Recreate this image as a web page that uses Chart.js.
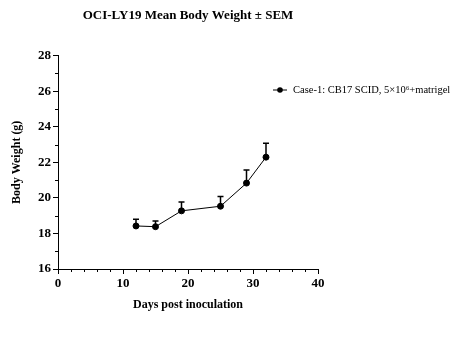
<!DOCTYPE html>
<html>
<head>
<meta charset="utf-8">
<script src="https://cdn.jsdelivr.net/npm/chart.js@4.4.0/dist/chart.umd.min.js"></script>
<style>
    html, body { margin: 0; padding: 0; background: #fff; }
    #wrap { width: 460px; height: 337px; }
</style>
</head>
<body>
<div id="wrap"><canvas id="chart" width="460" height="337"></canvas></div>
<script>
// Values
const seriesLabel = 'Case-1: CB17 SCID, 5×10⁶+matrigel';
const days = [12, 15, 19, 25, 29, 32];
const meanWeight = [18.42, 18.38, 19.27, 19.53, 20.83, 22.29];
const semWeight = [0.38, 0.32, 0.50, 0.55, 0.73, 0.78];

const serif = "'Liberation Serif', 'Times New Roman', serif";

// Upper error bars, minor ticks and the legend entry
const extrasPlugin = {
    id: 'extras',
    afterDatasetsDraw(chart) {
        const ctx = chart.ctx;
        const xs = chart.scales.x;
        const ys = chart.scales.y;
        ctx.save();
        ctx.strokeStyle = '#000';

        // error bars (mean + SEM only)
        ctx.lineWidth = 1.5;
        days.forEach((d, i) => {
            const px = xs.getPixelForValue(d);
            const py = ys.getPixelForValue(meanWeight[i]);
            const pt = ys.getPixelForValue(meanWeight[i] + semWeight[i]);
            ctx.beginPath();
            ctx.moveTo(px, py);
            ctx.lineTo(px, pt);
            ctx.moveTo(px - 3, pt);
            ctx.lineTo(px + 3, pt);
            ctx.stroke();
        });

        // minor ticks
        ctx.lineWidth = 1;
        ctx.beginPath();
        for (let v = ys.min + 1; v < ys.max; v += 2) {
            const py = Math.round(ys.getPixelForValue(v)) + 0.5;
            ctx.moveTo(xs.left - 3, py);
            ctx.lineTo(xs.left, py);
        }
        for (let v = xs.min; v <= xs.max; v += 2) {
            if (v % 10 === 0) continue;
            const px = Math.round(xs.getPixelForValue(v)) + 0.5;
            ctx.moveTo(px, ys.bottom);
            ctx.lineTo(px, ys.bottom + 3);
        }
        ctx.stroke();

        // legend entry
        const lx = 273, ly = 90;
        ctx.lineWidth = 1;
        ctx.beginPath();
        ctx.moveTo(lx, ly);
        ctx.lineTo(lx + 14, ly);
        ctx.stroke();
        ctx.fillStyle = '#000';
        ctx.beginPath();
        ctx.arc(lx + 7, ly, 2.8, 0, Math.PI * 2);
        ctx.fill();
        ctx.font = '10.5px ' + serif;
        ctx.textBaseline = 'middle';
        ctx.fillText(seriesLabel, lx + 20, ly);
        ctx.restore();
    }
};

const ctx = document.getElementById('chart').getContext('2d');
new Chart(ctx, {
    type: 'line',
    data: {
        datasets: [{
            label: seriesLabel,
            data: days.map((d, i) => ({ x: d, y: meanWeight[i] })),
            borderColor: '#000',
            backgroundColor: '#000',
            borderWidth: 1,
            pointRadius: 3,
            pointHoverRadius: 3,
            tension: 0
        }]
    },
    options: {
        responsive: false,
        animation: false,
        events: [],
        layout: {
            padding: { left: 6, right: 142, top: 0, bottom: 25 }
        },
        plugins: {
            legend: { display: false },
            tooltip: { enabled: false },
            title: {
                display: true,
                fullSize: false,
                text: 'OCI-LY19 Mean Body Weight ± SEM',
                color: '#000',
                font: { family: serif, size: 13, weight: 'bold' },
                padding: { top: 8, bottom: 32 }
            }
        },
        scales: {
            x: {
                type: 'linear',
                min: 0,
                max: 40,
                afterFit: (scale) => { scale.height = 43; },
                ticks: {
                    stepSize: 10,
                    color: '#000',
                    font: { family: serif, size: 13, weight: 'bold' },
                    padding: 2
                },
                grid: { display: true, drawOnChartArea: false, drawTicks: true, tickLength: 5, tickColor: '#000' },
                border: { display: true, color: '#000', width: 1 },
                title: {
                    display: true,
                    text: 'Days post inoculation',
                    color: '#000',
                    font: { family: serif, size: 12, weight: 'bold' },
                    padding: { top: 4, bottom: 0 }
                }
            },
            y: {
                min: 16,
                max: 28,
                afterFit: (scale) => { scale.width = 52; },
                ticks: {
                    stepSize: 2,
                    color: '#000',
                    font: { family: serif, size: 13, weight: 'bold' },
                    padding: 2
                },
                grid: { display: true, drawOnChartArea: false, drawTicks: true, tickLength: 5, tickColor: '#000' },
                border: { display: true, color: '#000', width: 1 },
                title: {
                    display: true,
                    text: 'Body Weight (g)',
                    color: '#000',
                    font: { family: serif, size: 12, weight: 'bold' },
                    padding: { top: 4, bottom: 0 }
                }
            }
        }
    },
    plugins: [extrasPlugin]
});
</script>
</body>
</html>
